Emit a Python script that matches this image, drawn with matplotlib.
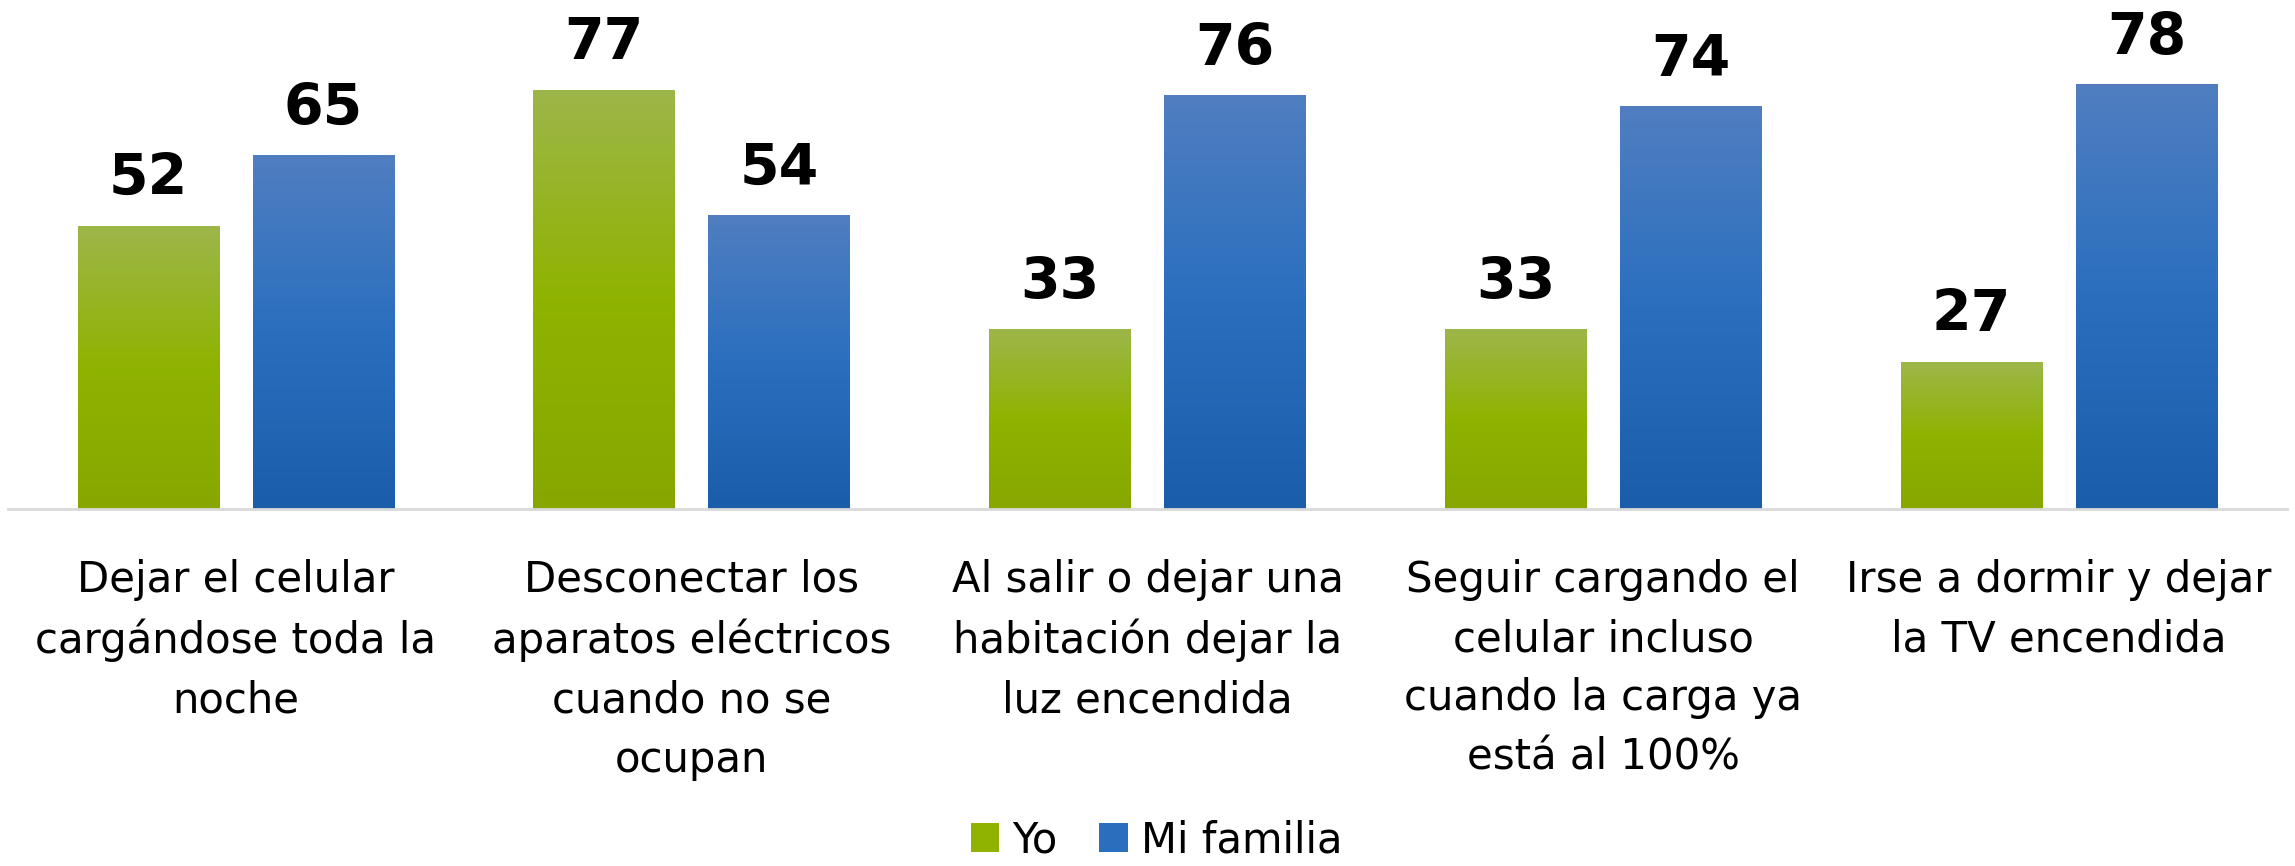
import numpy as np
import matplotlib
matplotlib.use("Agg")
import matplotlib.pyplot as plt
from matplotlib.colors import LinearSegmentedColormap
from matplotlib.patches import Patch

categorias = [
    "Dejar el celular\ncargándose toda la\nnoche",
    "Desconectar los\naparatos eléctricos\ncuando no se\nocupan",
    "Al salir o dejar una\nhabitación dejar la\nluz encendida",
    "Seguir cargando el\ncelular incluso\ncuando la carga ya\nestá al 100%",
    "Irse a dormir y dejar\nla TV encendida",
]
yo = [52, 77, 33, 33, 27]
familia = [65, 54, 76, 74, 78]
series = ["Yo", "Mi familia"]

plt.rcParams['font.family'] = ['DejaVu Sans']

verde = LinearSegmentedColormap.from_list("verde", ["#9db64a", "#8fb300", "#87a700"])
azul = LinearSegmentedColormap.from_list("azul", ["#507ec1", "#2a6fbe", "#1a5eaa"])

fig = plt.figure(figsize=(22.95, 8.66), dpi=100)
ax = fig.add_axes([8 / 2295, 1 - 509 / 866, (2287 - 8) / 2295, 509 / 866])

x = np.arange(len(categorias))
ancho = 0.311
desp = 0.192

grad = np.linspace(0, 1, 256).reshape(-1, 1)
for vals, cmap, off in [(yo, verde, -desp), (familia, azul, desp)]:
    barras = ax.bar(x + off, vals, ancho, color="none", edgecolor="none")
    for b, v in zip(barras, vals):
        x0 = b.get_x()
        ax.imshow(grad, cmap=cmap, extent=[x0, x0 + b.get_width(), 0, v],
                  aspect="auto", origin="upper", zorder=2)
        ax.annotate(str(v), (x0 + b.get_width() / 2, v), xytext=(0, 22.3),
                    textcoords="offset points", ha="center", va="baseline",
                    fontsize=41, fontweight="heavy", color="black")

ax.set_xlim(-0.5, 4.5)
ax.set_ylim(0, 93.6)
ax.set_yticks([])
ax.set_xticks(x)
ax.set_xticklabels(categorias, fontsize=30.2, linespacing=1.52)
ax.tick_params(axis="x", length=0, pad=36)
for s in ["top", "right", "left"]:
    ax.spines[s].set_visible(False)
ax.spines["bottom"].set_color("#d9d9d9")
ax.spines["bottom"].set_linewidth(2)
ax.spines["bottom"].set_zorder(3)

handles = [Patch(facecolor="#8fb300", label=series[0]),
           Patch(facecolor="#2a6fbe", label=series[1])]
fig.legend(handles=handles, loc="center", bbox_to_anchor=(0.504, 0.03), ncol=2,
           frameon=False, fontsize=30, handlelength=0.68, handleheight=0.68,
           handletextpad=0.32, columnspacing=1.0, borderpad=0)

fig.savefig("out.png", dpi=100)
